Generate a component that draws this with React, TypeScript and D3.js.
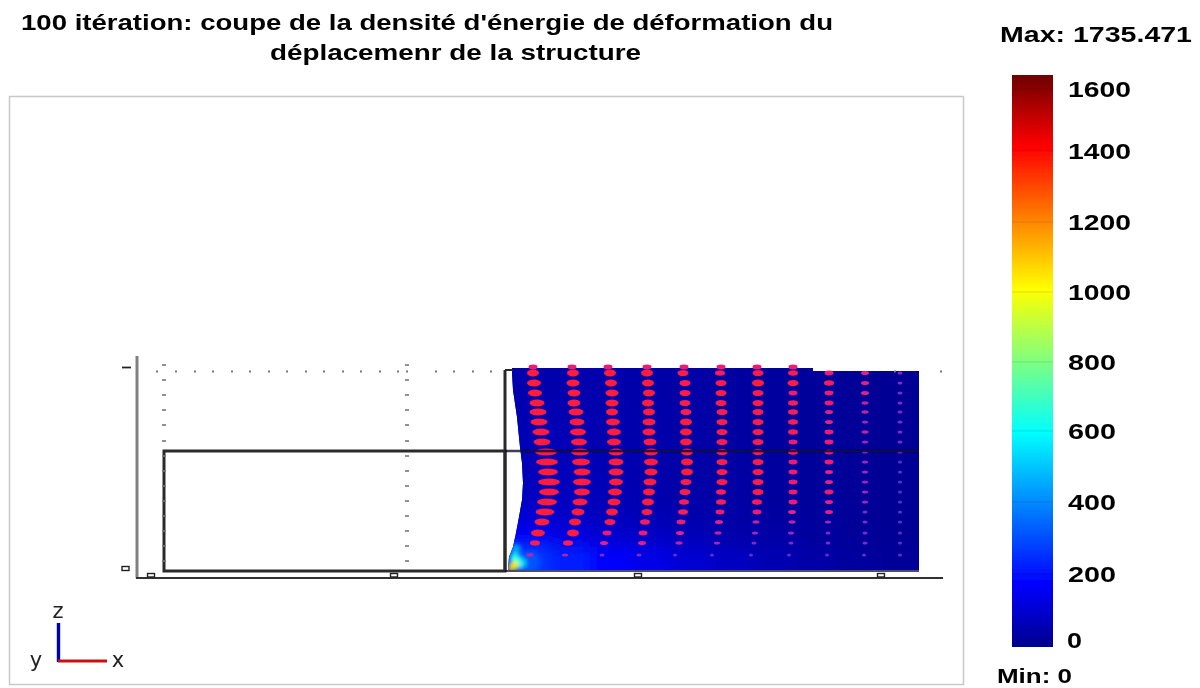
import React from "react";
import * as d3 from "d3";

const titleLines = ["100 itération: coupe de la densité d'énergie de déformation du", "déplacemenr de la structure"];
const maxLabel = "Max: 1735.471";
const minLabel = "Min: 0";
const colorTicks = [0, 200, 400, 600, 800, 1000, 1200, 1400, 1600];
const colorTickPx = [640, 574, 502, 431, 362, 292, 222, 151, 89];
const jetStops = [
  [0, "#00008f"], [0.11, "#0000ff"], [0.375, "#00ffff"], [0.625, "#ffff00"], [0.875, "#ff0000"], [1, "#6e0000"],
] as const;

// Field samples: z rows from top to bottom, x columns from left to right
const fieldX = [357, 398, 439, 480, 521, 562, 603, 644, 685, 726, 768];
const fieldZ = [204, 184, 164, 144, 124, 104, 84, 64, 44, 24, 0];
const fieldValues = [
  [50, 50, 50, 45, 40, 30, 25, 20, 15, 8],
  [55, 55, 50, 45, 40, 30, 25, 20, 15, 8],
  [60, 60, 55, 50, 40, 30, 25, 20, 15, 8],
  [65, 65, 55, 50, 40, 30, 25, 20, 15, 8],
  [70, 70, 60, 50, 40, 35, 25, 20, 15, 8],
  [75, 75, 65, 50, 40, 35, 25, 20, 15, 8],
  [85, 80, 70, 55, 45, 35, 25, 20, 15, 8],
  [120, 100, 80, 65, 50, 40, 30, 22, 15, 8],
  [180, 145, 110, 90, 70, 50, 38, 28, 18, 10],
  [290, 240, 190, 150, 115, 85, 60, 42, 28, 16],
];
const hotSpots = [
  { x: 378, z: 9, v: 340, r: 11 },
  { x: 365, z: 22, v: 480, r: 5 },
  { x: 370, z: 8, v: 600, r: 5 },
  { x: 364, z: 13, v: 700, r: 5 },
  { x: 364, z: 6, v: 1000, r: 4.5 },
  { x: 361, z: 4, v: 1150, r: 4 },
];
const outline: [number, number][] = [
  [361, 199], [362, 181], [366, 154], [369, 124], [371, 108], [372, 88], [371, 71], [368, 54], [365, 38], [362, 24], [358, 14], [357, 1],
  [768, 1], [768, 200], [662, 200], [662, 203], [361, 203],
];

// Vector glyphs
const arrowZ = [198, 188, 178, 168, 159, 149, 139, 129, 119, 109, 99, 89, 79, 69, 59, 49, 38, 28, 16];
const arrowX = [
  [382, 383, 384, 386, 387, 388, 390, 391, 395, 396, 397, 398, 398, 396, 394, 391, 387, 384, 379],
  [422, 422, 423, 423, 425, 426, 427, 428, 429, 430, 431, 431, 431, 429, 427, 424, 422, 417, 414],
  [459, 460, 461, 461, 461, 462, 463, 463, 465, 465, 465, 465, 464, 463, 461, 459, 456, 453, 451],
  [496, 497, 498, 497, 498, 498, 498, 499, 500, 500, 500, 499, 498, 497, 496, 494, 492, 491, 488],
  [532, 534, 534, 534, 535, 535, 535, 535, 536, 536, 536, 535, 534, 533, 532, 530, 529, 528, 524],
  [569, 570, 570, 570, 571, 571, 571, 571, 571, 571, 571, 571, 570, 570, 569, 568, 567, 566, 561],
  [607, 607, 607, 607, 607, 607, 607, 607, 607, 607, 607, 607, 607, 606, 606, 605, 604, 603, 600],
  [642, 642, 642, 642, 642, 642, 642, 642, 642, 642, 642, 642, 642, 642, 641, 641, 640, 640, 638],
  [678, 678, 678, 678, 678, 678, 678, 678, 678, 678, 678, 678, 678, 678, 678, 677, 677, 677, 676],
  [714, 714, 714, 714, 714, 714, 714, 714, 714, 714, 714, 714, 714, 714, 714, 714, 714, 714, 713],
  [749, 749, 749, 749, 749, 749, 749, 749, 749, 749, 749, 749, 749, 749, 749, 749, 749, 749, 749],
];
const arrowSize = [
  [10, 12, 12, 13, 15, 15, 15, 15, 20, 20, 18, 20, 18, 18, 17, 13, 12, 8, 5],
  [10, 11, 11, 11, 13, 13, 14, 14, 16, 16, 15, 16, 14, 13, 11, 10, 10, 8, 4],
  [10, 10, 11, 11, 10, 12, 12, 12, 13, 13, 13, 12, 12, 11, 10, 9, 7, 6, 3],
  [10, 10, 10, 10, 10, 11, 11, 11, 12, 12, 11, 11, 10, 10, 9, 8, 7, 6, 3],
  [9, 9, 9, 9, 9, 10, 10, 10, 10, 10, 10, 9, 9, 8, 8, 7, 6, 5, 2],
  [8, 9, 9, 9, 9, 9, 9, 9, 9, 9, 9, 9, 8, 8, 7, 6, 5, 4, 2],
  [9, 10, 9, 9, 9, 9, 9, 9, 9, 9, 9, 9, 9, 8, 7, 5, 4, 3, 2],
  [8, 9, 7, 8, 8, 8, 8, 7, 8, 7, 7, 7, 7, 7, 6, 5, 4, 3, 2],
  [7, 8, 7, 7, 6, 6, 7, 7, 7, 7, 6, 6, 7, 6, 6, 4, 3, 3, 2],
  [6, 6, 6, 5, 5, 4, 5, 4, 4, 4, 4, 4, 4, 4, 3, 3, 3, 3, 2],
  [3, 3, 3, 3, 3, 3, 3, 3, 3, 2, 2, 2, 2, 2, 2, 2, 2, 2, 2],
];
const topArrowX = [382, 421, 457, 496, 533, 570, 606, 642];
const topArrowZ = 204;

// Axis furniture
const xTicks = [0, 243, 487, 730];
const zTicks = [0, 201];
const boxX = [13, 354];
const boxZ = [0, 120];
const dotRowX = [6, 25, 44, 62, 81, 99, 118, 136, 155, 173, 192, 210, 229, 247, 256, 285, 303, 322, 340, 744, 790];
const dotColZ = [206, 191, 176, 161, 146, 130, 115, 100, 85, 70, 55, 40, 25, 10];
const dotColumnsX = [13, 256];

const W = 1200;
const H = 688;

export default function App() {
  const xScale = d3.scaleLinear().domain([0, 730]).range([151, 881]);
  const zScale = d3.scaleLinear().domain([0, 201]).range([571, 370]);
  const jet = d3.scaleLinear<string>().domain(jetStops.map((s) => s[0])).range(jetStops.map((s) => s[1])).interpolate(d3.interpolateRgb);
  const valueT = d3.scaleLinear().domain([0, 1735.471]).range([0, 1]).clamp(true);
  const color = (v: number) => jet(valueT(v));
  const arrowColor = d3.scaleLinear<string>().domain([2, 4, 6, 8, 10]).range(["#5a30d0", "#a028c0", "#e02088", "#f81c58", "#ff1a3c"]).clamp(true);
  const barY = d3.scaleLinear().domain([0, 1]).range([647, 75]);
  const outlineLine = d3.line<[number, number]>().x((d) => xScale(d[0])).y((d) => zScale(d[1]));

  const ell = (x: number, z: number, w: number, key: string) => (
    <ellipse key={key} cx={xScale(x)} cy={zScale(z)} rx={w / 2 + 1} ry={Math.max(1.5, Math.min(3.4, w * 0.34))} fill={arrowColor(w)} />
  );
  const tickLen = (t: number) => (t >= 1000 ? 63 : t >= 100 ? 48 : 15);

  return (
    <svg width={W} height={H} viewBox={`0 0 ${W} ${H}`} style={{ position: "absolute", left: 0, top: 0, background: "#fff" }}>
      <defs>
        <linearGradient id="jetGrad" x1="0" y1="1" x2="0" y2="0">
          {jetStops.map((s) => <stop key={s[0]} offset={s[0]} stopColor={s[1]} />)}
        </linearGradient>
        <clipPath id="field"><path d={(outlineLine(outline) as string) + "Z"} /></clipPath>
        <filter id="b3" filterUnits="userSpaceOnUse" x="440" y="300" width="560" height="340"><feGaussianBlur stdDeviation="8" /></filter>
        <filter id="b1" filterUnits="userSpaceOnUse" x="480" y="520" width="100" height="80"><feGaussianBlur stdDeviation="2" /></filter>
        <filter id="soft" filterUnits="userSpaceOnUse" x="0" y="0" width="1200" height="688"><feGaussianBlur stdDeviation="0.55" /></filter>
        <filter id="txt" filterUnits="userSpaceOnUse" x="0" y="0" width="1200" height="688"><feGaussianBlur stdDeviation="0.4" /></filter>
      </defs>

      <rect x={9.5} y={96.5} width={954} height={588} fill="#fff" stroke="#c8c8c8" strokeWidth={1.5} />

      <g filter="url(#txt)" fontFamily="'Liberation Sans', Arial, sans-serif" fontWeight="bold" fill="#000" fontSize={22}>
        <text x={21} y={30} textLength={812} lengthAdjust="spacingAndGlyphs">{titleLines[0]}</text>
        <text x={270} y={60} textLength={371} lengthAdjust="spacingAndGlyphs">{titleLines[1]}</text>
        <text x={1000} y={42} textLength={192} lengthAdjust="spacingAndGlyphs">{maxLabel}</text>
        <text x={997} y={683} fontSize={21} textLength={75} lengthAdjust="spacingAndGlyphs">{minLabel}</text>
        {colorTicks.map((t, i) => (
          <text key={t} x={t === 0 ? 1067 : 1068} y={colorTickPx[i] + 8} textLength={tickLen(t)} lengthAdjust="spacingAndGlyphs">{t}</text>
        ))}
      </g>

      <g filter="url(#soft)">
        <g clipPath="url(#field)">
          <rect x={xScale(357)} y={zScale(204)} width={xScale(768) - xScale(357)} height={zScale(0) - zScale(204)} fill={color(30)} />
          <g filter="url(#b3)">
            {fieldValues.map((row, r) => row.map((v, c) => (
              <rect key={`${r}-${c}`} x={xScale(fieldX[c]) - (c === 0 ? 30 : 0)} y={zScale(fieldZ[r]) - (r === 0 ? 30 : 0)}
                width={xScale(fieldX[c + 1]) - xScale(fieldX[c]) + 1 + (c === 0 || c === 9 ? 30 : 0)}
                height={zScale(fieldZ[r + 1]) - zScale(fieldZ[r]) + 1 + (r === 0 || r === 9 ? 30 : 0)} fill={color(v)} />
            )))}
          </g>
          <g filter="url(#b1)">
            {hotSpots.map((h, i) => <circle key={i} cx={xScale(h.x)} cy={zScale(h.z)} r={h.r} fill={color(h.v)} />)}
          </g>
        </g>

        <g>
          {arrowX.map((col, c) => col.map((x, r) => ell(x, arrowZ[r], arrowSize[c][r], `a${c}-${r}`)))}
          {topArrowX.map((x, i) => ell(x, topArrowZ, 7, `t${i}`))}
        </g>

        {/* geometry */}
        <rect x={xScale(boxX[0])} y={zScale(boxZ[1])} width={xScale(boxX[1]) - xScale(boxX[0])} height={zScale(boxZ[0]) - zScale(boxZ[1])} fill="none" stroke="#2a2a2a" strokeWidth={3} />
        <line x1={xScale(boxX[1])} x2={xScale(boxX[1])} y1={zScale(201)} y2={zScale(0)} stroke="#2a2a2a" strokeWidth={3} />
        <line x1={xScale(boxX[1])} x2={xScale(354) + 8} y1={zScale(201)} y2={zScale(201)} stroke="#2a2a2a" strokeWidth={2} />
        <line x1={xScale(boxX[1])} x2={xScale(768)} y1={zScale(boxZ[1])} y2={zScale(boxZ[1])} stroke="#0a0a30" strokeWidth={2.4} opacity={0.8} />
        <line x1={xScale(boxX[1])} x2={xScale(768)} y1={zScale(0)} y2={zScale(0)} stroke="#0a0a30" strokeWidth={1.5} />

        {/* axes */}
        <line x1={137} x2={137} y1={356} y2={578} stroke="#808080" strokeWidth={3} />
        <line x1={136} x2={943} y1={578} y2={578} stroke="#333" strokeWidth={1.8} />
        {xTicks.map((t) => <rect key={t} x={xScale(t) - 3.5} y={573.5} width={7} height={3.5} fill="#fff" stroke="#222" strokeWidth={1.4} />)}
        {zTicks.map((t) => t === 0
          ? <rect key={t} x={122} y={zScale(t) - 4.5} width={7} height={4} fill="#fff" stroke="#222" strokeWidth={1.4} />
          : <line key={t} x1={122} x2={131} y1={zScale(t) - 2.5} y2={zScale(t) - 2.5} stroke="#222" strokeWidth={1.8} />)}
        {dotRowX.map((x) => <rect key={x} x={xScale(x) - 1} y={370.5} width={2} height={2} fill="#777" />)}
        {dotColumnsX.map((x) => dotColZ.map((z) => <rect key={`${x}-${z}`} x={xScale(x) - 2} y={zScale(z) - 0.8} width={4} height={1.6} fill="#777" />))}

        {/* triad */}
        <line x1={58.5} x2={58.5} y1={623} y2={662} stroke="#0000b0" strokeWidth={3.4} />
        <line x1={58} x2={107} y1={661} y2={661} stroke="#d01010" strokeWidth={3} />
      </g>
      <g filter="url(#txt)" fontFamily="'DejaVu Sans', sans-serif" fontSize={21} fill="#222">
        <text x={58} y={618} textAnchor="middle">z</text>
        <text x={36} y={667} textAnchor="middle">y</text>
        <text x={118} y={667} textAnchor="middle">x</text>
      </g>

      {/* colour bar */}
      <g filter="url(#soft)">
        <rect x={1012} y={barY(1)} width={41} height={barY(0) - barY(1)} fill="url(#jetGrad)" />
        {colorTicks.map((t, i) => <line key={t} x1={1012} x2={1053} y1={colorTickPx[i]} y2={colorTickPx[i]} stroke="#000" strokeOpacity={0.12} />)}
      </g>
    </svg>
  );
}
